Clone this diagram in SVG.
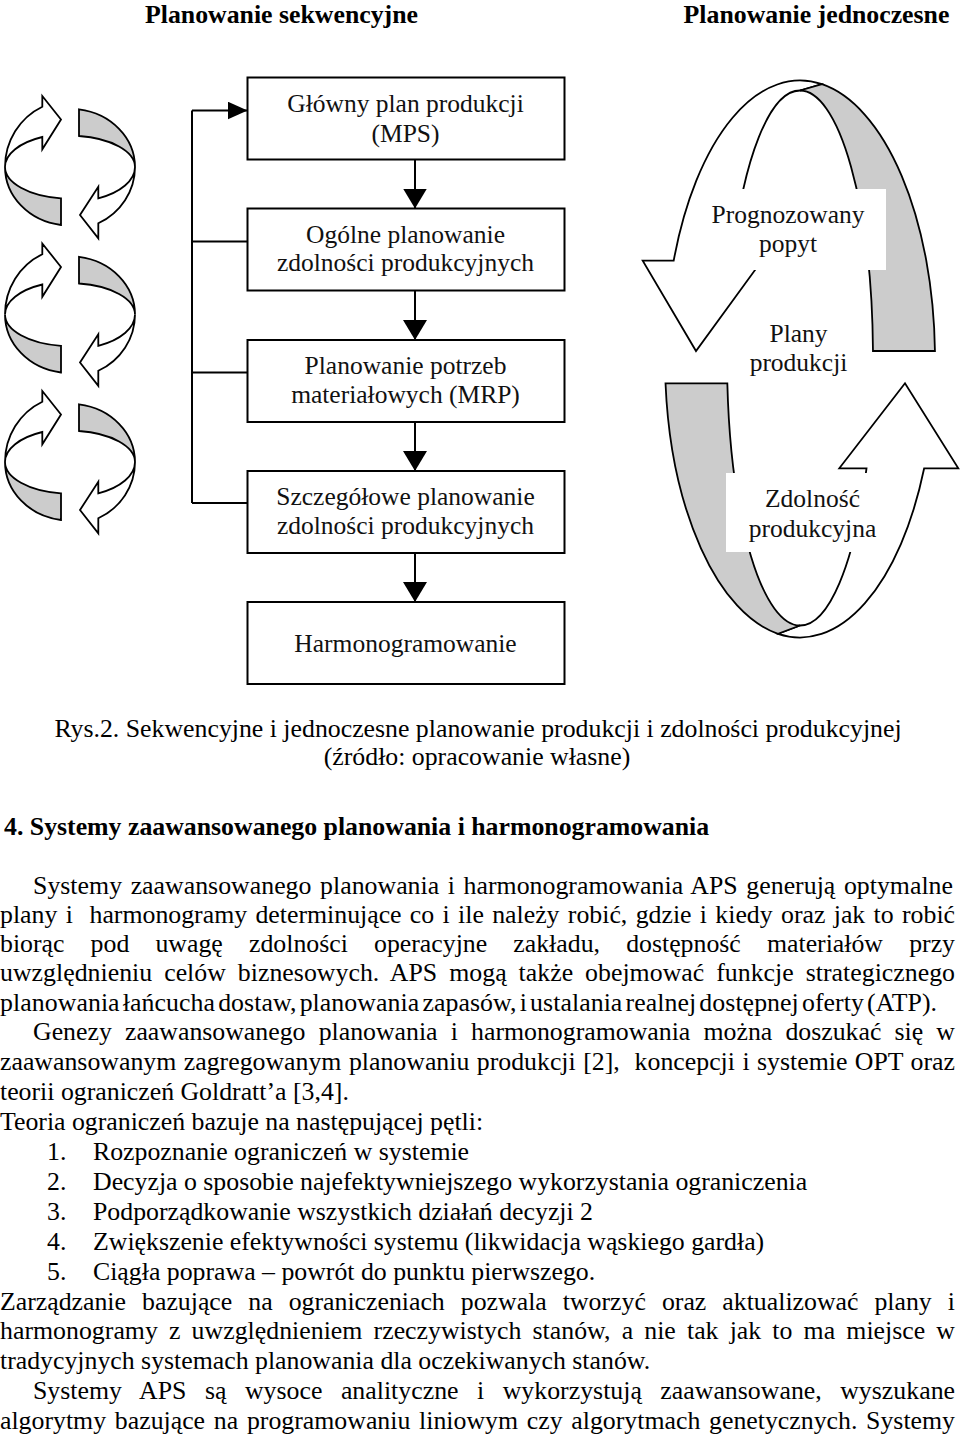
<svg xmlns="http://www.w3.org/2000/svg" xmlns:xlink="http://www.w3.org/1999/xlink" width="960" height="1438" viewBox="0 0 960 1438">
<style>
.t{font-family:"Liberation Serif","Times New Roman",serif;font-size:25.8px;fill:#000}
.b{font-weight:bold}
.m{text-anchor:middle}
.bt{font-family:"Liberation Serif","Times New Roman",serif;font-size:25.5px;fill:#111;text-anchor:middle}
.box{fill:#fff;stroke:#000;stroke-width:2}
.con{stroke:#000;stroke-width:2;fill:none}
.w{fill:#fff;stroke:#000;stroke-width:1.8;stroke-linejoin:miter}
.g{fill:#cccccc;stroke:#000;stroke-width:1.8;stroke-linejoin:miter}
.bg{fill:#fff;stroke:none}
</style>
<defs>
<marker id="ahV" markerUnits="userSpaceOnUse" markerWidth="20" markerHeight="24" refX="20" refY="12" orient="auto" viewBox="0 0 20 24"><path d="M0,0 L20,12 L0,24 Z" fill="#000"/></marker>
<marker id="ahH" markerUnits="userSpaceOnUse" markerWidth="20" markerHeight="18" refX="20" refY="9" orient="auto" viewBox="0 0 20 18"><path d="M0,0 L20,9 L0,18 Z" fill="#000"/></marker>
<g id="loop">
<path class="w" d="M5,167 A65 66.65 0 0 1 42.3,106.7 L42.3,96 L61,119.5 L42.3,149.3 L42.3,137 A65 33.16 0 0 0 5,167 Z"/>
<path class="g" d="M5,167 A65 58.56 0 0 0 61,225 L61,198.3 A65 31.6 0 0 1 5,167 Z"/>
<path class="g" d="M79,109.3 A65 58.26 0 0 1 135,167 A65 31.3 0 0 0 79,136 Z"/>
<path class="w" d="M135,167 A65 62.54 0 0 1 98.3,223.3 L98.3,238.3 L80,215 L98.3,186.7 L98.3,198.3 A65 34.77 0 0 0 135,167 Z"/>
</g>
</defs>
<rect width="960" height="1438" fill="#fff"/>

<g id="titles">
<text class="t b m" x="281.5" y="22.5">Planowanie sekwencyjne</text>
<text class="t b m" x="816.5" y="22.5">Planowanie jednoczesne</text>
</g>

<g id="cycle-arrows">
<use xlink:href="#loop"/>
<use xlink:href="#loop" transform="translate(0,147.5)"/>
<use xlink:href="#loop" transform="translate(0,295)"/>
</g>

<g id="connectors">
<path class="con" d="M192,503 L192,110.5"/>
<path class="con" d="M192,110.5 L247.5,110.5" marker-end="url(#ahH)"/>
<path class="con" d="M192,241.5 L247.5,241.5"/>
<path class="con" d="M192,372.5 L247.5,372.5"/>
<path class="con" d="M192,503 L247.5,503"/>
<path class="con" d="M415,159.5 L415,208.5" marker-end="url(#ahV)"/>
<path class="con" d="M415,290.5 L415,340" marker-end="url(#ahV)"/>
<path class="con" d="M415,422 L415,471" marker-end="url(#ahV)"/>
<path class="con" d="M415,553 L415,602" marker-end="url(#ahV)"/>
</g>

<g id="node-mps">
<rect class="box" x="247.5" y="77.5" width="317" height="82"/>
<text class="bt" x="405.5" y="111.5">Główny plan produkcji</text>
<text class="bt" x="405.5" y="141.5">(MPS)</text>
</g>
<g id="node-ogolne">
<rect class="box" x="247.5" y="208.5" width="317" height="82"/>
<text class="bt" x="405.5" y="242.5">Ogólne planowanie</text>
<text class="bt" x="405.5" y="271">zdolności produkcyjnych</text>
</g>
<g id="node-mrp">
<rect class="box" x="247.5" y="340" width="317" height="82"/>
<text class="bt" x="405.5" y="373.5">Planowanie potrzeb</text>
<text class="bt" x="405.5" y="403">materiałowych (MRP)</text>
</g>
<g id="node-szczegolowe">
<rect class="box" x="247.5" y="471" width="317" height="82"/>
<text class="bt" x="405.5" y="505">Szczegółowe planowanie</text>
<text class="bt" x="405.5" y="534">zdolności produkcyjnych</text>
</g>
<g id="node-harmonogramowanie">
<rect class="box" x="247.5" y="602" width="317" height="82"/>
<text class="bt" x="405.5" y="651.5">Harmonogramowanie</text>
</g>

<g id="ring">
<path class="w" d="M642.7,260.7 L673.69,260.7 A135 278.5 0 0 1 822,84.22 L800,90.5 A73 267.5 0 0 0 732,260.7 L761.8,260.7 L696,351 Z"/>
<path class="g" d="M800,90.5 L822,84.22 A135 278.5 0 0 1 934.94,351 L872.98,351 A73 267.5 0 0 0 800,90.5 Z"/>
<path class="w" d="M958.3,468.3 L924.17,468.3 A135 278.5 0 0 1 778,633.78 L800,625.5 A73 267.5 0 0 0 866.51,468.3 L839.3,468.3 L905,383.3 Z"/>
<path class="g" d="M665.51,383.3 L727.33,383.3 A73 267.5 0 0 0 800,625.5 L778,633.78 A135 278.5 0 0 1 665.51,383.3 Z"/>
</g>
<g id="node-prognozowany">
<rect class="bg" x="703" y="189" width="183" height="81"/>
<text class="bt" x="788" y="223">Prognozowany</text>
<text class="bt" x="788" y="251.5">popyt</text>
</g>
<g id="node-plany">
<text class="bt" x="798.5" y="341.5">Plany</text>
<text class="bt" x="798.5" y="371">produkcji</text>
</g>
<g id="node-zdolnosc">
<rect class="bg" x="726" y="473" width="154" height="79"/>
<text class="bt" x="812.5" y="507">Zdolność</text>
<text class="bt" x="812.5" y="537">produkcyjna</text>
</g>

<g id="body-text">
<text class="t m" x="478" y="737">Rys.2. Sekwencyjne i jednoczesne planowanie produkcji i zdolności produkcyjnej</text>
<text class="t m" x="477" y="764.5">(źródło: opracowanie własne)</text>
<text class="t b" x="4" y="835">4. Systemy zaawansowanego planowania i harmonogramowania</text>

<text class="t" x="33" y="894" word-spacing="2.1" textLength="920">Systemy zaawansowanego planowania i harmonogramowania APS generują optymalne</text>
<text class="t" x="0" y="923" word-spacing="1.9" textLength="955">plany i&#160; harmonogramy determinujące co i ile należy robić, gdzie i kiedy oraz jak to robić</text>
<text class="t" x="0" y="952" word-spacing="19.7" textLength="955">biorąc pod uwagę zdolności operacyjne zakładu, dostępność materiałów przy</text>
<text class="t" x="0" y="981" word-spacing="5.5" textLength="955">uwzględnieniu celów biznesowych. APS mogą także obejmować funkcje strategicznego</text>
<text class="t" x="0" y="1011" word-spacing="-3.4" textLength="937">planowania łańcucha dostaw, planowania zapasów, i ustalania realnej dostępnej oferty (ATP).</text>
<text class="t" x="33" y="1040" word-spacing="6.7" textLength="922">Genezy zaawansowanego planowania i harmonogramowania można doszukać się w</text>
<text class="t" x="0" y="1070" word-spacing="1" textLength="955">zaawansowanym zagregowanym planowaniu produkcji [2],&#160; koncepcji i systemie OPT oraz</text>
<text class="t" x="0" y="1100">teorii ograniczeń Goldratt’a [3,4].</text>
<text class="t" x="0" y="1130">Teoria ograniczeń bazuje na następującej pętli:</text>
<text class="t" x="47" y="1160">1.</text><text class="t" x="93" y="1160">Rozpoznanie ograniczeń w systemie</text>
<text class="t" x="47" y="1190">2.</text><text class="t" x="93" y="1190">Decyzja o sposobie najefektywniejszego wykorzystania ograniczenia</text>
<text class="t" x="47" y="1220">3.</text><text class="t" x="93" y="1220">Podporządkowanie wszystkich działań decyzji 2</text>
<text class="t" x="47" y="1250">4.</text><text class="t" x="93" y="1250">Zwiększenie efektywności systemu (likwidacja wąskiego gardła)</text>
<text class="t" x="47" y="1280">5.</text><text class="t" x="93" y="1280">Ciągła poprawa – powrót do punktu pierwszego.</text>
<text class="t" x="0" y="1310" word-spacing="9.6" textLength="955">Zarządzanie bazujące na ograniczeniach pozwala tworzyć oraz aktualizować plany i</text>
<text class="t" x="0" y="1339" word-spacing="4.65" textLength="955">harmonogramy z uwzględnieniem rzeczywistych stanów, a nie tak jak to ma miejsce w</text>
<text class="t" x="0" y="1369">tradycyjnych systemach planowania dla oczekiwanych stanów.</text>
<text class="t" x="33" y="1399" word-spacing="12" textLength="922">Systemy APS są wysoce analityczne i wykorzystują zaawansowane, wyszukane</text>
<text class="t" x="0" y="1429" word-spacing="2.3" textLength="955">algorytmy bazujące na programowaniu liniowym czy algorytmach genetycznych. Systemy</text>
</g>
</svg>
